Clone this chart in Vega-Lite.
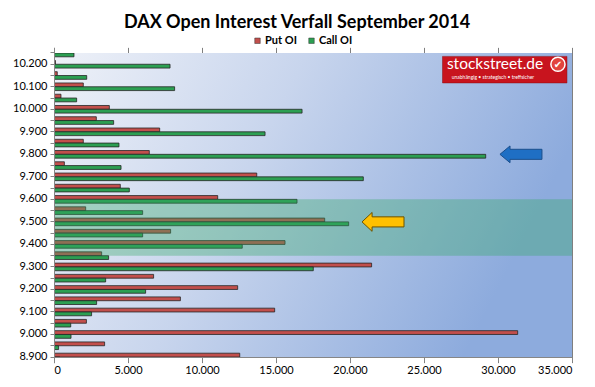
{
  "$schema": "https://vega.github.io/schema/vega-lite/v6.json",
  "autosize": {"type": "none"},
  "padding": {"left": 54, "top": 53, "right": 23, "bottom": 30},
  "width": 518,
  "height": 304,
  "background": "white",
  "title": {"text": "DAX Open Interest Verfall September 2014", "font": "Lato", "fontSize": 18, "fontWeight": "bold", "color": "#000000", "anchor": "middle", "dx": -16, "offset": 3},
  "config": {"view": {"stroke": null}, "font": "Lato"},
  "datasets": {
    "oi": [
      {"strike": 10250, "series": "Put OI", "value": 0}, {"strike": 10250, "series": "Call OI", "value": 1350},
      {"strike": 10200, "series": "Put OI", "value": 100}, {"strike": 10200, "series": "Call OI", "value": 7840},
      {"strike": 10150, "series": "Put OI", "value": 220}, {"strike": 10150, "series": "Call OI", "value": 2210},
      {"strike": 10100, "series": "Put OI", "value": 1980}, {"strike": 10100, "series": "Call OI", "value": 8150},
      {"strike": 10050, "series": "Put OI", "value": 470}, {"strike": 10050, "series": "Call OI", "value": 1530},
      {"strike": 10000, "series": "Put OI", "value": 3740}, {"strike": 10000, "series": "Call OI", "value": 16760},
      {"strike": 9950, "series": "Put OI", "value": 2860}, {"strike": 9950, "series": "Call OI", "value": 4030},
      {"strike": 9900, "series": "Put OI", "value": 7140}, {"strike": 9900, "series": "Call OI", "value": 14260},
      {"strike": 9850, "series": "Put OI", "value": 1980}, {"strike": 9850, "series": "Call OI", "value": 4390},
      {"strike": 9800, "series": "Put OI", "value": 6440}, {"strike": 9800, "series": "Call OI", "value": 29170},
      {"strike": 9750, "series": "Put OI", "value": 700}, {"strike": 9750, "series": "Call OI", "value": 4530},
      {"strike": 9700, "series": "Put OI", "value": 13700}, {"strike": 9700, "series": "Call OI", "value": 20900},
      {"strike": 9650, "series": "Put OI", "value": 4480}, {"strike": 9650, "series": "Call OI", "value": 5090},
      {"strike": 9600, "series": "Put OI", "value": 11060}, {"strike": 9600, "series": "Call OI", "value": 16420},
      {"strike": 9550, "series": "Put OI", "value": 2140}, {"strike": 9550, "series": "Call OI", "value": 5990},
      {"strike": 9500, "series": "Put OI", "value": 18290}, {"strike": 9500, "series": "Call OI", "value": 19910},
      {"strike": 9450, "series": "Put OI", "value": 7880}, {"strike": 9450, "series": "Call OI", "value": 5990},
      {"strike": 9400, "series": "Put OI", "value": 15610}, {"strike": 9400, "series": "Call OI", "value": 12720},
      {"strike": 9350, "series": "Put OI", "value": 3220}, {"strike": 9350, "series": "Call OI", "value": 3690},
      {"strike": 9300, "series": "Put OI", "value": 21460}, {"strike": 9300, "series": "Call OI", "value": 17520},
      {"strike": 9250, "series": "Put OI", "value": 6730}, {"strike": 9250, "series": "Call OI", "value": 3490},
      {"strike": 9200, "series": "Put OI", "value": 12410}, {"strike": 9200, "series": "Call OI", "value": 6190},
      {"strike": 9150, "series": "Put OI", "value": 8540}, {"strike": 9150, "series": "Call OI", "value": 2880},
      {"strike": 9100, "series": "Put OI", "value": 14910}, {"strike": 9100, "series": "Call OI", "value": 2540},
      {"strike": 9050, "series": "Put OI", "value": 2190}, {"strike": 9050, "series": "Call OI", "value": 1130},
      {"strike": 9000, "series": "Put OI", "value": 31330}, {"strike": 9000, "series": "Call OI", "value": 1150},
      {"strike": 8950, "series": "Put OI", "value": 3420}, {"strike": 8950, "series": "Call OI", "value": 310},
      {"strike": 8900, "series": "Put OI", "value": 12550}, {"strike": 8900, "series": "Call OI", "value": 400}
    ],
    "one": [{"k": 1}]
  },
  "resolve": {"scale": {"x": "shared", "y": "shared"}},
  "layer": [
    {
      "data": {"name": "one"},
      "mark": {"type": "rect", "clip": true, "fill": {"gradient": "linear", "x1": 0, "y1": 0, "x2": 1, "y2": 0.3, "stops": [{"offset": 0, "color": "#eef1f8"}, {"offset": 0.45, "color": "#c8d5ed"}, {"offset": 1, "color": "#8dabdd"}]}},
      "encoding": {
        "x": {"datum": 0, "type": "quantitative"},
        "x2": {"datum": 35000},
        "y": {"datum": 10250, "type": "ordinal", "bandPosition": 0.5},
        "y2": {"datum": 8900, "bandPosition": 0.5}
      }
    },
    {
      "data": {"name": "oi"},
      "mark": {"type": "bar", "clip": true, "stroke": "#262626", "strokeWidth": 0.8},
      "encoding": {
        "y": {
          "field": "strike", "type": "ordinal",
          "scale": {"domain": [10250, 10200, 10150, 10100, 10050, 10000, 9950, 9900, 9850, 9800, 9750, 9700, 9650, 9600, 9550, 9500, 9450, 9400, 9350, 9300, 9250, 9200, 9150, 9100, 9050, 9000, 8950, 8900], "paddingInner": 0, "paddingOuter": 0, "range": [-5.63, 309.63]},
          "axis": {"title": null, "labelExpr": "datum.value % 100 == 0 ? replace(format(datum.value, ','), ',', '.') : ''", "labelFont": "Lato", "labelFontSize": 11, "labelColor": "#000000", "tickSize": 4, "tickColor": "#868686", "domainColor": "#868686", "labelPadding": 3, "grid": false}
        },
        "yOffset": {"field": "series", "sort": ["Put OI", "Call OI"], "scale": {"paddingInner": 0, "paddingOuter": 0.48}},
        "x": {
          "field": "value", "type": "quantitative",
          "scale": {"domain": [0, 35000], "nice": false},
          "axis": {"title": null, "values": [0, 5000, 10000, 15000, 20000, 25000, 30000, 35000], "labelExpr": "replace(format(datum.value, ','), ',', '.')", "labelFont": "Lato", "labelFontSize": 11, "labelColor": "#000000", "grid": true, "gridColor": "#7f7f7f", "gridWidth": 1, "tickSize": 4, "tickColor": "#868686", "domainColor": "#868686", "labelPadding": 3}
        },
        "color": {
          "field": "series", "type": "nominal",
          "scale": {"domain": ["Put OI", "Call OI"], "range": ["#c24f4c", "#2c9f52"]},
          "legend": {"title": null, "orient": "none", "direction": "horizontal", "legendX": 198, "legendY": -18, "symbolType": "square", "symbolSize": 30, "symbolStrokeColor": "#333333", "symbolStrokeWidth": 0.5, "labelFont": "Lato", "labelFontSize": 11, "labelFontWeight": "bold", "labelColor": "#000000", "columnPadding": 9, "labelOffset": 2}
        }
      }
    },
    {
      "data": {"name": "one"},
      "mark": {"type": "rect", "fill": "#34a866", "opacity": 0.36},
      "encoding": {
        "x": {"datum": 0, "type": "quantitative"},
        "x2": {"datum": 35000},
        "y": {"datum": 9600, "type": "ordinal", "bandPosition": 0.5},
        "y2": {"datum": 9350, "bandPosition": 0.5}
      }
    },
    {
      "data": {"name": "one"},
      "mark": {"type": "point", "filled": true, "fill": "#1f6fc4", "stroke": "#1b4f8c", "strokeWidth": 1, "opacity": 1, "size": 1764, "shape": "M-1,0L-0.52,-0.4L-0.52,-0.24L1,-0.24L1,0.24L-0.52,0.24L-0.52,0.4Z"},
      "encoding": {
        "x": {"datum": 31550, "type": "quantitative"},
        "y": {"datum": 9800, "type": "ordinal"}
      }
    },
    {
      "data": {"name": "one"},
      "mark": {"type": "point", "filled": true, "fill": "#ffc000", "stroke": "#6b5200", "strokeWidth": 1, "opacity": 1, "size": 1764, "shape": "M-1,0L-0.52,-0.45L-0.52,-0.24L1,-0.24L1,0.24L-0.52,0.24L-0.52,0.45Z"},
      "encoding": {
        "x": {"datum": 22230, "type": "quantitative"},
        "y": {"datum": 9500, "type": "ordinal"}
      }
    },
    {
      "data": {"name": "one"},
      "mark": {"type": "rect", "fill": "#c8141e", "stroke": "#8a0e14", "strokeWidth": 0.5},
      "encoding": {
        "x": {"datum": 26250, "type": "quantitative"},
        "x2": {"datum": 34660},
        "y": {"datum": 10250, "type": "ordinal", "bandPosition": 0.8},
        "y2": {"datum": 10100, "bandPosition": 0.16}
      }
    },
    {
      "data": {"name": "one"},
      "mark": {"type": "text", "text": "stockstreet.de", "font": "Lato", "fontSize": 15.5, "color": "#ffffff", "baseline": "middle", "align": "center", "dy": 0},
      "encoding": {
        "x": {"datum": 29800, "type": "quantitative"},
        "y": {"datum": 10200, "type": "ordinal"}
      }
    },
    {
      "data": {"name": "one"},
      "mark": {"type": "text", "text": "unabhängig • strategisch • treffsicher", "font": "Lato", "fontSize": 5, "color": "#ffffff", "baseline": "middle", "align": "center", "dy": 1.5},
      "encoding": {
        "x": {"datum": 29660, "type": "quantitative"},
        "y": {"datum": 10150, "type": "ordinal"}
      }
    },
    {
      "data": {"name": "one"},
      "mark": {"type": "point", "shape": "circle", "filled": true, "fill": "#e2443e", "stroke": "#ffffff", "strokeWidth": 1.5, "opacity": 1, "size": 200, "dy": 2},
      "encoding": {
        "x": {"datum": 34050, "type": "quantitative"},
        "y": {"datum": 10200, "type": "ordinal"}
      }
    },
    {
      "data": {"name": "one"},
      "mark": {"type": "text", "text": "✔", "font": "DejaVu Sans", "fontSize": 10, "color": "#ffffff", "baseline": "middle", "align": "center", "dy": 1},
      "encoding": {
        "x": {"datum": 34050, "type": "quantitative"},
        "y": {"datum": 10200, "type": "ordinal"}
      }
    }
  ]
}
